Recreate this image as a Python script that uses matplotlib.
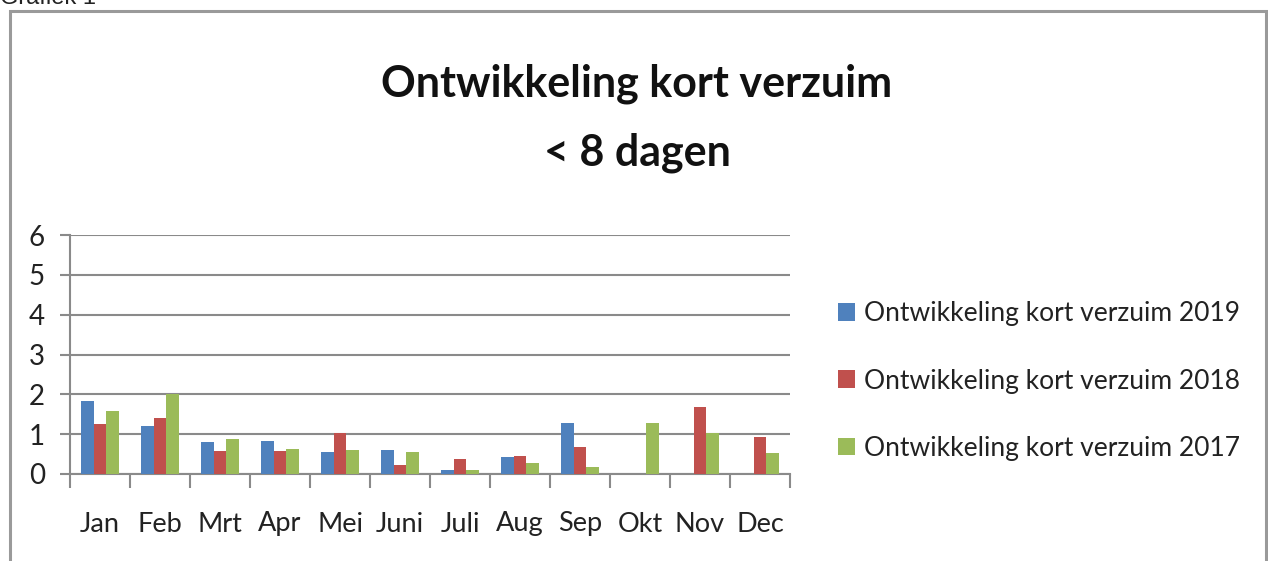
import numpy as np
import matplotlib
matplotlib.use('Agg')
import matplotlib.pyplot as plt
from matplotlib.patches import Rectangle

# data
months = ['Jan', 'Feb', 'Mrt', 'Apr', 'Mei', 'Juni', 'Juli', 'Aug', 'Sep', 'Okt', 'Nov', 'Dec']
v2019 = [1.83, 1.21, 0.80, 0.84, 0.56, 0.60, 0.10, 0.42, 1.29, 0.0, 0.0, 0.0]
v2018 = [1.26, 1.40, 0.57, 0.57, 1.02, 0.23, 0.37, 0.46, 0.69, 0.0, 1.69, 0.92]
v2017 = [1.58, 2.00, 0.89, 0.62, 0.60, 0.55, 0.10, 0.28, 0.18, 1.29, 1.02, 0.52]
series_names = ['Ontwikkeling kort verzuim 2019',
                'Ontwikkeling kort verzuim 2018',
                'Ontwikkeling kort verzuim 2017']
yticks = [0, 1, 2, 3, 4, 5, 6]

colors = ['#4F81BD', '#C0504D', '#9BBB59']
grey = '#8a8a8a'
font = 'Lato'

W, H = 1268, 561
fig = plt.figure(figsize=(W / 100, H / 100), dpi=100)
fig.patch.set_facecolor('white')

# outer frame (runs off the bottom of the picture)
frame = Rectangle((9.5 / W, -0.2), (1265.5 - 9.5) / W, 1.2 - 10.5 / H,
                  transform=fig.transFigure, fill=False, edgecolor='#9a9a9a',
                  linewidth=2.2, clip_on=False)
fig.add_artist(frame)
fig.text(0.0, 1 - 4 / H, 'Grafiek 1', family='Liberation Sans', fontsize=17,
         va='baseline', ha='left', color='#222222')

ax = fig.add_axes([70 / W, (H - 474) / H, 720 / W, 239 / H])

x = np.arange(len(months))
bw = 0.215
for i, (vals, c, name) in enumerate(zip([v2019, v2018, v2017], colors, series_names)):
    ax.bar(x + (i - 1) * bw, vals, width=bw, color=c, label=name, zorder=3)

ax.set_xlim(-0.5, len(months) - 0.5)
ax.set_ylim(0, 6)
ax.set_yticks(yticks)
ax.set_yticklabels([str(t) for t in yticks], family=font, fontsize=20, color='#222222')
ax.yaxis.grid(True, color=grey, linewidth=1.5, zorder=0)
ax.tick_params(axis='y', length=7, width=1.5, color=grey, pad=11)

ax.set_xticks(np.arange(-0.5, len(months), 1.0))
ax.set_xticklabels([])
ax.tick_params(axis='x', which='major', length=10, width=1.5, color=grey)
ax.set_xticks(x, minor=True)
ax.set_xticklabels(months, minor=True, family=font, fontsize=19.5, color='#222222')
ax.tick_params(axis='x', which='minor', length=0, pad=27)

for s in ['top', 'right']:
    ax.spines[s].set_visible(False)
for s in ['left', 'bottom']:
    ax.spines[s].set_color(grey)
    ax.spines[s].set_linewidth(1.5)
ax.spines['left'].set_bounds(0, 6)

fig.text(637 / W, 1 - 118 / H, 'Ontwikkeling kort verzuim\n< 8 dagen',
         family=font, fontweight='bold', fontsize=31, ha='center', va='center',
         linespacing=1.85, color='#111111')

leg = ax.legend(loc='center left', bbox_to_anchor=(814 / W, 1 - 381 / H),
                bbox_transform=fig.transFigure, frameon=False,
                prop={'family': font, 'size': 19}, handlelength=0.65,
                handleheight=0.65, handletextpad=0.35, labelspacing=1.6)
for t in leg.get_texts():
    t.set_color('#222222')

fig.savefig('out.png', dpi=100)
